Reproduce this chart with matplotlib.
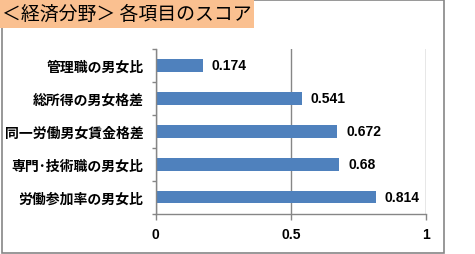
import matplotlib.pyplot as plt
from matplotlib.patches import Rectangle

# data
categories = ['管理職の男女比', '総所得の男女格差', '同一労働男女賃金格差',
              '専門･技術職の男女比', '労働参加率の男女比']
scores = [0.174, 0.541, 0.672, 0.68, 0.814]
xticks = [0, 0.5, 1]
xtick_labels = ['0', '0.5', '1']
title = '＜経済分野＞ 各項目のスコア'

W, H = 475, 255
GRAY = '#868686'
BAR = '#4F81BD'

fig = plt.figure(figsize=(W / 100, H / 100), dpi=100)


def px(x0, y0, x1, y1):
    # pixel box (top-left origin) -> figure fraction rect
    return [x0 / W, 1 - y1 / H, (x1 - x0) / W, (y1 - y0) / H]


# outer chart frame
fig.patches.append(Rectangle((1.5 / W, 1 - 253.5 / H), 442 / W, 253 / H,
                             transform=fig.transFigure, fill=False,
                             edgecolor=GRAY, lw=1.2))
# title box
fig.patches.append(Rectangle((0, 1 - 28.7 / H), 254 / W, 28.7 / H,
                             transform=fig.transFigure, facecolor='#FAC090',
                             edgecolor='none', zorder=2))
fig.text(2 / W, 1 - 14.5 / H, title, fontsize=13.6, family='Noto Sans CJK JP',
         va='center', ha='left', zorder=3)

ax = fig.add_axes(px(155.5, 50, 426, 214.5))
ypos = range(len(categories))
ax.barh(ypos, scores, height=0.39, color=BAR, zorder=2)
ax.set_ylim(len(categories) - 0.5, -0.5)
ax.set_xlim(0, 1)

for y, v in zip(ypos, scores):
    ax.annotate(f'{v:g}', (v, y), xytext=(6.5, 0), textcoords='offset points',
                va='center', ha='left', fontsize=10, fontweight='bold',
                family='Liberation Sans')

ax.set_yticks(ypos)
ax.set_yticklabels(categories, family='Noto Sans CJK JP', fontweight='bold',
                   fontsize=10)
ax.set_yticks([i - 0.5 for i in range(len(categories) + 1)], minor=True)
ax.tick_params(axis='y', which='major', length=0, pad=8.5)
ax.tick_params(axis='y', which='minor', length=3, color=GRAY, width=1)

ax.set_xticks(xticks)
ax.set_xticklabels(xtick_labels, family='Liberation Sans', fontweight='bold',
                   fontsize=10)
ax.tick_params(axis='x', length=4.5, color=GRAY, width=1, pad=5.5)

ax.grid(axis='x', color=GRAY, lw=1, zorder=0)
for s in ['top', 'right']:
    ax.spines[s].set_visible(False)
for s in ['left', 'bottom']:
    ax.spines[s].set_color(GRAY)
    ax.spines[s].set_linewidth(1)

fig.savefig('out.png', dpi=100)
